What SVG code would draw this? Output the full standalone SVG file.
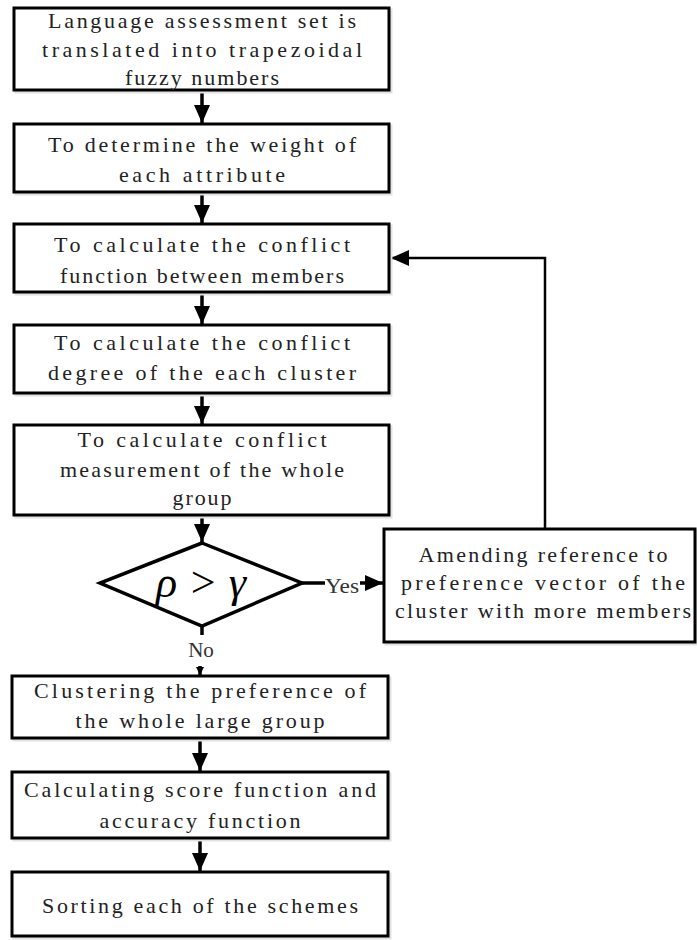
<svg xmlns="http://www.w3.org/2000/svg" width="697" height="940" viewBox="0 0 697 940">
<style>
.box{fill:#fff;stroke:#000;stroke-width:3}
.sh{fill:none;stroke:#e2e2e2;stroke-width:3}
.t{font-family:"Liberation Serif",serif;font-size:22px;fill:#222;text-anchor:middle}
.lab{font-family:"Liberation Serif",serif;font-size:21px;fill:#333;text-anchor:middle}
.ln{fill:none;stroke:#000;stroke-width:3.5}
.fb{fill:none;stroke:#000;stroke-width:2.5}
</style>
<defs>
<marker id="ah" markerUnits="userSpaceOnUse" viewBox="0 0 18 16" refX="18" refY="8" markerWidth="18" markerHeight="16" orient="auto"><path d="M0,0 L18,8 L0,16 z" fill="#000"/></marker>
<marker id="ahs" markerUnits="userSpaceOnUse" viewBox="0 0 8 8" refX="8" refY="4" markerWidth="8" markerHeight="8" orient="auto"><path d="M0,0 L8,4 L0,8 z" fill="#000"/></marker>
</defs>
<rect width="697" height="940" fill="#fff"/>
<g id="connectors">
<line class="ln" x1="202" y1="90" x2="202" y2="123" marker-end="url(#ah)"/>
<line class="ln" x1="202" y1="192" x2="202" y2="223" marker-end="url(#ah)"/>
<line class="ln" x1="202" y1="292" x2="202" y2="324" marker-end="url(#ah)"/>
<line class="ln" x1="202" y1="393" x2="202" y2="424" marker-end="url(#ah)"/>
<line class="ln" x1="202" y1="515" x2="202" y2="542" marker-end="url(#ah)"/>
<line class="ln" x1="302" y1="583" x2="325" y2="583"/>
<line class="ln" x1="360" y1="583" x2="383" y2="583" marker-end="url(#ah)"/>
<text class="lab" x="342" y="593" textLength="34" lengthAdjust="spacingAndGlyphs">Yes</text>
<line class="ln" x1="202" y1="626" x2="202" y2="635"/>
<text class="lab" x="201" y="657">No</text>
<line class="ln" x1="200" y1="666" x2="200" y2="675" marker-end="url(#ahs)"/>
<line class="ln" x1="200" y1="738" x2="200" y2="771" marker-end="url(#ah)"/>
<line class="ln" x1="200" y1="838" x2="200" y2="871" marker-end="url(#ah)"/>
<polyline class="fb" points="545,529 545,258 391,258" marker-end="url(#ah)"/>
</g>
<g id="n1">
<rect class="sh" x="16" y="10" width="375" height="82"/>
<rect class="box" x="14" y="8" width="375" height="82"/>
<text class="t" x="202" y="28" textLength="308" lengthAdjust="spacing">Language assessment set is</text>
<text class="t" x="202" y="57" textLength="320" lengthAdjust="spacing">translated into trapezoidal</text>
<text class="t" x="202" y="85" textLength="154" lengthAdjust="spacing">fuzzy numbers</text>
</g>
<g id="n2">
<rect class="sh" x="16" y="126" width="375" height="68"/>
<rect class="box" x="14" y="124" width="375" height="68"/>
<text class="t" x="202" y="152" textLength="308" lengthAdjust="spacing">To determine the weight of</text>
<text class="t" x="202" y="182" textLength="166" lengthAdjust="spacing">each attribute</text>
</g>
<g id="n3">
<rect class="sh" x="16" y="226" width="375" height="68"/>
<rect class="box" x="14" y="224" width="375" height="68"/>
<text class="t" x="202" y="252" textLength="296" lengthAdjust="spacing">To calculate the conflict</text>
<text class="t" x="202" y="283" textLength="284" lengthAdjust="spacing">function between members</text>
</g>
<g id="n4">
<rect class="sh" x="16" y="327" width="375" height="68"/>
<rect class="box" x="14" y="325" width="375" height="68"/>
<text class="t" x="202" y="350" textLength="296" lengthAdjust="spacing">To calculate the conflict</text>
<text class="t" x="202" y="380" textLength="308" lengthAdjust="spacing">degree of the each cluster</text>
</g>
<g id="n5">
<rect class="sh" x="16" y="427" width="375" height="90"/>
<rect class="box" x="14" y="425" width="375" height="90"/>
<text class="t" x="202" y="447" textLength="249" lengthAdjust="spacing">To calculate conflict</text>
<text class="t" x="202" y="477" textLength="284" lengthAdjust="spacing">measurement of the whole</text>
<text class="t" x="202" y="505" textLength="59" lengthAdjust="spacing">group</text>
</g>
<g id="decision">
<polygon points="202,543 302,583 202,626 100,583" fill="#fff" stroke="#000" stroke-width="3.5"/>
<text x="201" y="597" font-family="Liberation Serif,serif" font-style="italic" font-size="44" fill="#000" text-anchor="middle">ρ &gt; γ</text>
</g>
<g id="n6">
<rect class="sh" x="386" y="531" width="311" height="113"/>
<rect class="box" x="384" y="529" width="311" height="113"/>
<text class="t" x="543" y="562" textLength="249" lengthAdjust="spacing">Amending reference to</text>
<text class="t" x="543" y="590" textLength="284" lengthAdjust="spacing">preference vector of the</text>
<text class="t" x="543" y="618" textLength="296" lengthAdjust="spacing">cluster with more members</text>
</g>
<g id="n7">
<rect class="sh" x="14" y="678" width="376" height="62"/>
<rect class="box" x="12" y="676" width="376" height="62"/>
<text class="t" x="200" y="698" textLength="332" lengthAdjust="spacing">Clustering the preference of</text>
<text class="t" x="200" y="728" textLength="249" lengthAdjust="spacing">the whole large group</text>
</g>
<g id="n8">
<rect class="sh" x="14" y="774" width="376" height="66"/>
<rect class="box" x="12" y="772" width="376" height="66"/>
<text class="t" x="200" y="797" textLength="352" lengthAdjust="spacing">Calculating score function and</text>
<text class="t" x="200" y="828" textLength="201" lengthAdjust="spacing">accuracy function</text>
</g>
<g id="n9">
<rect class="sh" x="14" y="874" width="376" height="64"/>
<rect class="box" x="12" y="872" width="376" height="64"/>
<text class="t" x="200" y="913" textLength="316" lengthAdjust="spacing">Sorting each of the schemes</text>
</g>
</svg>
